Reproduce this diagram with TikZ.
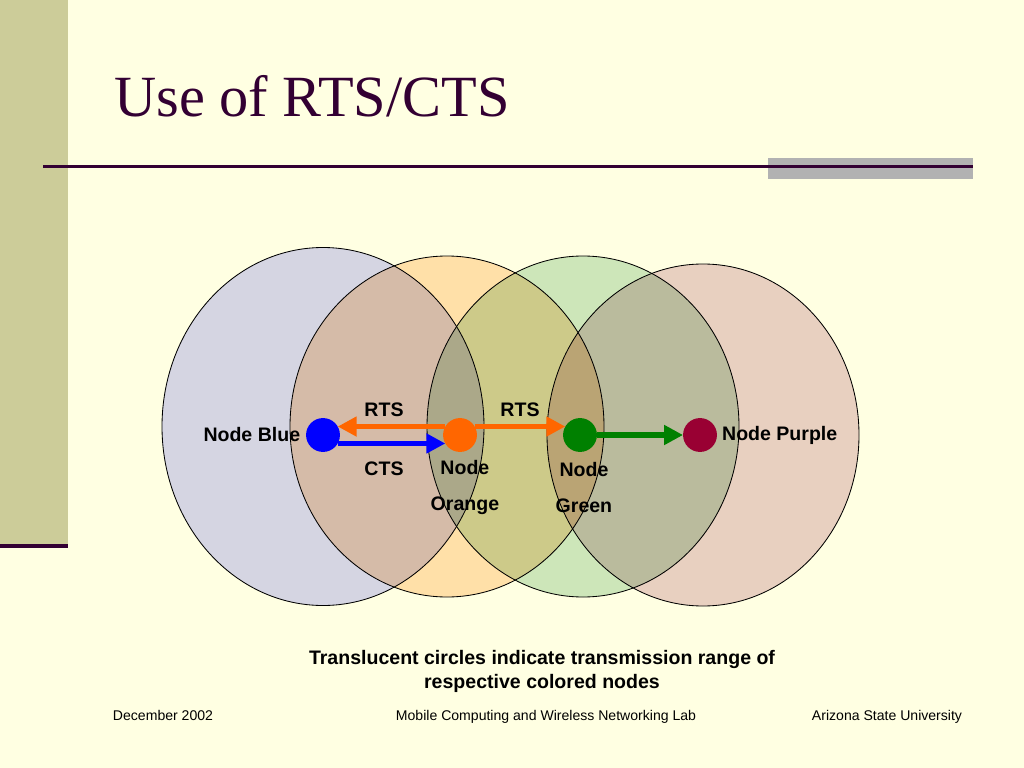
\documentclass[tikz,border=0pt]{standalone}
\usepackage{fontspec}
\setmainfont{Liberation Serif}
\setsansfont{Liberation Sans}
\usetikzlibrary{positioning, arrows.meta}
\definecolor{slidebg}{RGB}{255,255,226}
\definecolor{barcol}{RGB}{204,204,153}
\definecolor{titlecol}{RGB}{51,0,51}
\definecolor{rangeblue}{RGB}{213,213,255}
\definecolor{rangeorange}{RGB}{255,224,190}
\definecolor{rangegreen}{RGB}{205,230,209}
\definecolor{rangepurple}{RGB}{232,208,217}
\definecolor{nodeorange}{RGB}{255,102,0}
\definecolor{nodegreen}{RGB}{0,128,0}
\definecolor{nodepurple}{RGB}{153,0,51}

\begin{document}
\begin{tikzpicture}[x=0.025cm, y=-0.025cm, font=\sffamily,
  txrange/.style={draw=black, line width=0.6pt},
  dot/.style={circle, minimum size=24.1pt, inner sep=0pt, outer sep=0pt},
  lbl/.style={font=\fontsize{13.9}{16.7}\selectfont\sffamily\bfseries,
    inner sep=1pt, align=center},
  twoline/.style={lbl, font=\fontsize{13.9}{25.5}\selectfont\sffamily\bfseries},
  foot/.style={font=\fontsize{10}{12}\selectfont\sffamily, anchor=base},
  msg/.style={line width=3.9pt, -{Triangle[length=13.5pt,width=13.5pt]}}]
  % slide background
  \fill[slidebg] (0,0) rectangle (1024,768);
  \useasboundingbox (0,0) rectangle (1024,768);
  \fill[barcol] (0,0) rectangle (68,545);
  \fill[titlecol] (0,544) rectangle (68,548);
  \fill[gray!60] (768,158) rectangle (973,179);
  \draw[titlecol, line width=2pt] (43,166.5) -- (973,166.5);
  \node[anchor=base west, inner sep=0pt, text=titlecol,
    font=\fontsize{41.5}{48}\selectfont\rmfamily] (title) at (114,117)
    {Use of RTS/CTS};

  % transmission ranges
  \begin{scope}[blend mode=multiply]
    \foreach \cx/\cy/\rx/\ry/\col in {323/426.5/161/179/rangeblue,
      447/426.5/157/170.5/rangeorange, 583/426.5/156/170.5/rangegreen,
      703/435/156/171/rangepurple}
      \draw[txrange, fill=\col] (\cx,\cy) ellipse [x radius=\rx, y radius=\ry];
  \end{scope}

  % nodes
  \node[dot, fill=blue] (nb) at (323,435) {};
  \node[dot, fill=nodeorange] (no) at (460,435) {};
  \node[dot, fill=nodegreen] (ng) at (580,435) {};
  \node[dot, fill=nodepurple] (np) at (700,435) {};

  % messages
  \draw[msg, nodeorange] (no.150) -- (nb.30);
  \draw[msg, nodeorange] (no.30) -- (ng.150);
  \draw[msg, blue] (nb.-30) -- (no.210);
  \draw[msg, nodegreen] (ng.east) -- (np.west);

  % labels
  \node[lbl] (rts1) at (384,410) {RTS};
  \node[lbl] (cts) at (384,469) {CTS};
  \node[lbl] (rts2) at (520,410) {RTS};
  \node[lbl, left=3pt of nb] (lb) {Node Blue};
  \node[lbl, right=2.5pt of np] (lp) {Node Purple};
  \node[twoline, below=5pt of no, xshift=3.5pt] (lo) {Node\\Orange};
  \node[twoline, below=6.5pt of ng, xshift=2.8pt] (lg) {Node\\Green};

  \node[lbl] (caption) at (542,671.5)
    {Translucent circles indicate transmission range of\\respective colored nodes};
  \node[foot] (date) at (163,720) {December 2002};
  \node[foot] (lab) at (546,720) {Mobile Computing and Wireless Networking Lab};
  \node[foot] (univ) at (887,720) {Arizona State University};
\end{tikzpicture}
\end{document}
